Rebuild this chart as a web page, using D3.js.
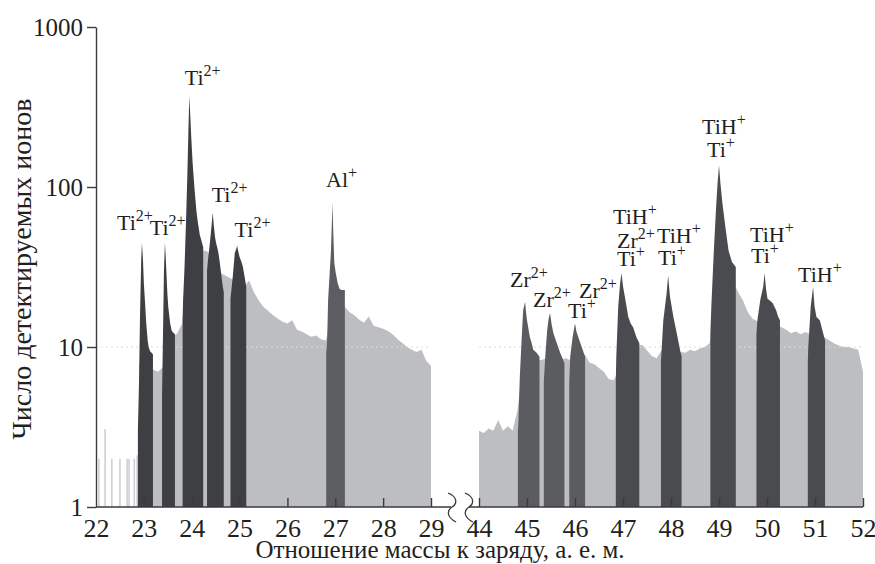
<!DOCTYPE html>
<html><head><meta charset="utf-8">
<script src="https://cdn.jsdelivr.net/npm/d3@7"></script>
<style>body{margin:0;background:#fff}svg{display:block}text{font-family:"Liberation Serif","Times New Roman",serif;fill:#231f20}</style>
</head><body><svg id="c" width="875" height="564"></svg>
<script>
// ---------- data ----------
const xTicksLeft = [22, 23, 24, 25, 26, 27, 28, 29];
const xTicksRight = [44, 45, 46, 47, 48, 49, 50, 51, 52];
const yTicks = [1, 10, 100, 1000];

// light-grey background spectrum, sampled every 0.1 amu
const bgStep = 0.1;
const bgLeftStart = 22.9;
const bgLeft = [8, 8, 7.5, 7.2, 7.0, 7.5, 9, 11.5, 12.2, 14,
  30, 35, 38, 40, 40, 38, 34, 29, 28, 27,
  26, 25, 24, 26, 22, 19.5, 17.8, 16.8, 15.8, 15,
  14.4, 14, 14.7, 12.8, 12.5, 12, 11.6, 11.8, 11.2, 11,
  14, 17, 18, 17.8, 16.5, 15.8, 14.8, 14.2, 15.5, 13.6,
  13.3, 13, 12.6, 12, 11.2, 10.6, 10, 9.6, 9.3, 9.6, 8.2, 7.6];
const bgRightStart = 44.0;
const bgRight = [3.0, 2.9, 3.1, 3.0, 3.5, 3.0, 3.2, 3.0, 4, 7,
  8, 8, 8.3, 8.3, 8.5, 8.5, 8.5, 8.3, 8.5, 8.3,
  8.3, 8.2, 9.0, 8.0, 7.8, 7.4, 7.0, 6.3, 6.2, 7,
  8, 9, 10, 10.3, 10.3, 9.5, 8.8, 8.5, 9.5, 9.5,
  9.5, 9.4, 9.3, 9.2, 9.6, 9.4, 9.8, 10, 10.5, 14,
  20, 24, 25, 25.5, 22, 19.5, 16.5, 15, 14.5, 14.5,
  14, 14, 13.8, 13.3, 12.8, 12.2, 12.5, 12, 12.4, 12,
  12, 11.8, 11.5, 11, 10.5, 10.2, 10, 10, 9.8, 9.6, 7.0];
// isolated low counts before 23 amu: [mass, count]
const sparseLines = [[22.06, 2], [22.19, 3.07], [22.33, 2], [22.5, 2], [22.65, 2], [22.69, 2], [22.8, 2], [22.86, 2.1]];

// dark peaks: [mass, count]
const peakTi23 = [[22.875, 3], [22.9, 6.2], [22.92, 16], [22.945, 35], [22.96, 44.6], [22.98, 36], [23.0, 25], [23.02, 20], [23.05, 14], [23.08, 11], [23.1, 10], [23.13, 9.4], [23.16, 9.2], [23.19, 9]];
const peakTi235 = [[23.38, 5], [23.40, 12], [23.42, 30], [23.44, 45], [23.46, 35], [23.49, 22], [23.51, 17.8], [23.55, 14], [23.58, 12.7], [23.61, 12.3], [23.65, 12]];
const peakTi24 = [[23.81, 15], [23.82, 19.7], [23.85, 31.6], [23.88, 60], [23.91, 122], [23.93, 220], [23.95, 371], [23.97, 280], [23.99, 205], [24.02, 140], [24.06, 96], [24.1, 70], [24.13, 59.5], [24.17, 50], [24.2, 46.6], [24.24, 42]];
const peakTi245 = [[24.32, 30], [24.34, 35], [24.37, 42], [24.4, 51.6], [24.42, 60], [24.44, 69], [24.46, 58], [24.49, 48], [24.51, 44.6], [24.55, 40], [24.58, 35], [24.62, 28], [24.65, 23.7], [24.67, 22]];
const peakTi25 = [[24.81, 20], [24.83, 22.8], [24.86, 28], [24.9, 38.7], [24.93, 41], [24.95, 43], [24.97, 40], [25.0, 36.5], [25.04, 34], [25.07, 31.6], [25.11, 27], [25.14, 23.7]];
const peakAl27 = [[26.81, 9], [26.83, 11], [26.85, 19.7], [26.88, 28], [26.91, 40], [26.93, 62], [26.94, 79.6], [26.96, 50], [26.98, 33.4], [27.01, 29], [27.05, 25], [27.09, 23], [27.13, 22.7], [27.2, 22.7]];
const peakZr45 = [[44.81, 3], [44.82, 3.35], [44.85, 6.5], [44.89, 11.5], [44.92, 17], [44.96, 19.2], [44.98, 16.5], [45.0, 14.7], [45.03, 13], [45.06, 11.5], [45.1, 10.5], [45.13, 9.6], [45.2, 9.2], [45.26, 8.7]];
const peakZr455 = [[45.35, 6], [45.38, 8.7], [45.42, 12.7], [45.45, 15], [45.48, 16.3], [45.51, 14], [45.55, 12.2], [45.62, 10.6], [45.69, 9.2], [45.74, 8.5], [45.78, 7.9]];
const peak46 = [[45.88, 6], [45.9, 8.7], [45.95, 11.5], [45.98, 13], [46.0, 14], [46.03, 12.5], [46.07, 11.5], [46.14, 10], [46.21, 8.7]];
const peak47 = [[46.85, 6], [46.86, 8.7], [46.9, 17.8], [46.94, 25], [46.97, 29], [47.0, 24], [47.04, 20.5], [47.11, 15.4], [47.16, 14], [47.21, 13.3], [47.28, 11.5], [47.34, 10.6]];
const peak48 = [[47.79, 8], [47.84, 14.7], [47.91, 21.8], [47.94, 28], [47.98, 20.5], [48.05, 15.4], [48.12, 12.2], [48.2, 9.2], [48.22, 8.8]];
const peak49 = [[48.82, 12], [48.84, 17.8], [48.89, 38.7], [48.94, 75], [48.97, 105], [49.0, 137], [49.03, 105], [49.07, 79.6], [49.14, 54], [49.2, 40], [49.27, 34], [49.35, 31.6]];
const peak50 = [[49.78, 12], [49.8, 14.7], [49.86, 19.7], [49.92, 23.7], [49.95, 29], [49.98, 23], [50.01, 20], [50.06, 19.5], [50.12, 18.8], [50.19, 17], [50.23, 15.5], [50.27, 14.7]];
const peak51 = [[50.85, 8], [50.86, 10], [50.91, 17.8], [50.96, 23.8], [50.99, 18], [51.03, 15.4], [51.1, 14.7], [51.17, 12.2], [51.21, 11]];

// ion labels: left-edge mass, baseline count
const ionLabels = [
  {m: 22.44, v: 53.8, base: "Ti", sup: "2+"},
  {m: 23.125, v: 50.1, base: "Ti", sup: "2+"},
  {m: 23.854, v: 434, base: "Ti", sup: "2+"},
  {m: 24.417, v: 80.6, base: "Ti", sup: "2+"},
  {m: 24.896, v: 48.7, base: "Ti", sup: "2+"},
  {m: 26.806, v: 100, base: "Al", sup: "+"},
  {m: 44.646, v: 23.7, base: "Zr", sup: "2+"},
  {m: 45.125, v: 17.8, base: "Zr", sup: "2+"},
  {m: 46.083, v: 20.2, base: "Zr", sup: "2+"},
  {m: 45.854, v: 15.2, base: "Ti", sup: "+"},
  {m: 46.792, v: 58.7, base: "TiH", sup: "+"},
  {m: 46.875, v: 41.6, base: "Zr", sup: "2+"},
  {m: 46.875, v: 32.1, base: "Ti", sup: "+"},
  {m: 47.708, v: 44.7, base: "TiH", sup: "+"},
  {m: 47.729, v: 32.6, base: "Ti", sup: "+"},
  {m: 48.646, v: 214, base: "TiH", sup: "+"},
  {m: 48.75, v: 154, base: "Ti", sup: "+"},
  {m: 49.646, v: 45.3, base: "TiH", sup: "+"},
  {m: 49.667, v: 33.5, base: "Ti", sup: "+"},
  {m: 50.646, v: 25.5, base: "TiH", sup: "+"}
];
const xTitle = "Отношение массы к заряду, а. е. м.";
const yTitle = "Число детектируемых ионов";

// ---------- drawing ----------
const svg = d3.select("#c");
const y = d3.scaleLog().domain([1, 1000]).range([507, 27]);
const xL = d3.scaleLinear().domain([22, 29]).range([96, 431]);
const xR = d3.scaleLinear().domain([44, 52]).range([479, 863]);
const X = m => (m < 36 ? xL(m) : xR(m));
const base = y(1);

const colBg = "#bdbec1", colTi = "#3e3f42", colAl = "#5c5d61", colZr = "#5b5c60", colTiH = "#4a4b4f";

const area = d3.area().x(d => X(d[0])).y0(base).y1(d => y(d[1])).curve(d3.curveLinear);

function bgArea(arr, start) {
  const pts = arr.map((v, i) => [start + i * bgStep, v]);
  svg.append("path").attr("d", area(pts)).attr("fill", colBg);
}
bgArea(bgLeft, bgLeftStart);
bgArea(bgRight, bgRightStart);

svg.append("g").selectAll("rect").data(sparseLines).join("rect")
  .attr("x", d => X(d[0]) - 0.8).attr("width", 1.6)
  .attr("y", d => y(d[1])).attr("height", d => base - y(d[1])).attr("fill", "#cfd0d3");

// faint grid at 10
[[22, 29], [44, 52]].forEach(([a, b]) => {
  svg.append("line").attr("x1", X(a)).attr("x2", X(b)).attr("y1", y(10)).attr("y2", y(10))
    .attr("stroke", "#dcdcde").attr("stroke-width", 1).attr("stroke-dasharray", "2,3");
});

const peaks = [
  [peakTi23, colTi], [peakTi235, colTi], [peakTi24, colTi], [peakTi245, colTi], [peakTi25, colTi],
  [peakAl27, colAl], [peakZr45, colZr], [peakZr455, colZr], [peak46, colZr],
  [peak47, colTiH], [peak48, colTiH], [peak49, colTiH], [peak50, colTiH], [peak51, colTiH]
];
svg.append("g").selectAll("path").data(peaks).join("path")
  .attr("d", d => area(d[0])).attr("fill", d => d[1]);

// axes
const axisCol = "#3a3a3c";
function styleAxis(g, fs) {
  g.selectAll(".tick line").attr("stroke", axisCol).attr("stroke-width", 1.4);
  g.selectAll("path.domain").attr("stroke", axisCol).attr("stroke-width", 1.4);
  g.selectAll("text").attr("font-size", fs).attr("fill", "#231f20")
    .attr("font-family", '"Liberation Serif","Times New Roman",serif');
}
const fmt = d3.format("d");
const gxl = svg.append("g").attr("transform", `translate(0,${base})`)
  .call(d3.axisBottom(xL).tickValues(xTicksLeft).tickFormat(fmt).tickSize(-9).tickSizeOuter(0).tickPadding(12));
const gxr = svg.append("g").attr("transform", `translate(0,${base})`)
  .call(d3.axisBottom(xR).tickValues(xTicksRight).tickFormat(fmt).tickSize(-9).tickSizeOuter(0).tickPadding(12));
[gxl, gxr].forEach(g => { g.select("path.domain").remove(); styleAxis(g, 26); });
gxl.selectAll(".tick").filter(d => d === 22).select("line").remove();

const breakL = 29.44, breakR = 43.79;
svg.append("line").attr("x1", X(22)).attr("x2", X(breakL) - 1).attr("y1", base).attr("y2", base)
  .attr("stroke", axisCol).attr("stroke-width", 1.4);
svg.append("line").attr("x1", X(breakR)).attr("x2", X(52)).attr("y1", base).attr("y2", base)
  .attr("stroke", axisCol).attr("stroke-width", 1.4);
[X(breakL), X(breakR)].forEach(x0 => {
  svg.append("path")
    .attr("d", `M${x0 - 4},${base - 14} C${x0 + 6},${base - 10} ${x0 + 5},${base - 3} ${x0},${base} C${x0 - 5},${base + 3} ${x0 - 6},${base + 10} ${x0 + 4},${base + 15}`)
    .attr("fill", "none").attr("stroke", axisCol).attr("stroke-width", 1.3);
});

const gy = svg.append("g").attr("transform", `translate(${X(22)},0)`)
  .call(d3.axisLeft(y).tickValues(yTicks).tickFormat(fmt).tickSize(9).tickSizeOuter(0).tickPadding(4));
styleAxis(gy, 25);

// labels
const lab = svg.append("g").selectAll("text").data(ionLabels).join("text")
  .attr("x", d => X(d.m)).attr("y", d => y(d.v)).attr("font-size", 22).attr("text-anchor", "start");
lab.append("tspan").text(d => d.base);
lab.append("tspan").attr("dy", -9).attr("font-size", 16).text(d => d.sup);

// titles
svg.append("text").attr("x", 440).attr("y", 558).attr("text-anchor", "middle").attr("font-size", 25).text(xTitle);
svg.append("text").attr("transform", "translate(31,269) rotate(-90)").attr("text-anchor", "middle").attr("font-size", 28).text(yTitle);
</script></body></html>
